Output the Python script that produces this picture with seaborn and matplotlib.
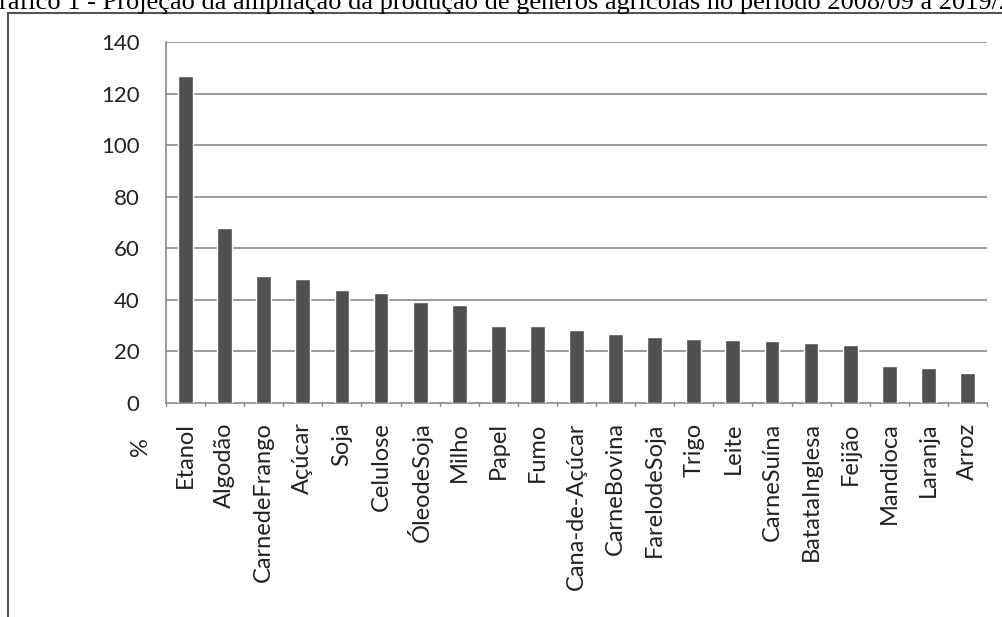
import matplotlib
matplotlib.use("Agg")
import matplotlib.pyplot as plt
import seaborn as sns
import pandas as pd
from matplotlib.patches import Rectangle

categorias = ["Etanol", "Algodão", "CarnedeFrango", "Açúcar", "Soja", "Celulose",
              "ÓleodeSoja", "Milho", "Papel", "Fumo", "Cana-de-Açúcar", "CarneBovina",
              "FarelodeSoja", "Trigo", "Leite", "CarneSuína", "BatataInglesa", "Feijão",
              "Mandioca", "Laranja", "Arroz"]
valores = [126.8, 68.0, 49.2, 48.2, 43.8, 42.8, 39.1, 37.9, 29.8, 29.9, 28.3, 26.9,
           25.5, 24.9, 24.4, 24.0, 23.1, 22.5, 14.5, 13.7, 11.7]
yticks = [0, 20, 40, 60, 80, 100, 120, 140]
titulo = "Gráfico 1 - Projeção da ampliação da produção de gêneros agrícolas no período 2008/09 a 2019/20"

sns.set_theme(style="white")
plt.rcParams['font.family'] = ['Lato', 'DejaVu Sans']

df = pd.DataFrame({"cat": categorias, "val": valores})

fig = plt.figure(figsize=(10.02, 6.17), dpi=100)
ax = fig.add_axes([166/1002, (617-403)/617, (987-166)/1002, (403-42)/617])

sns.barplot(data=df, x="cat", y="val", color="#505050", width=0.38,
            saturation=1, ax=ax, zorder=3)

ax.set_ylim(0, 140)
ax.set_xlim(-0.5, len(categorias) - 0.5)
ax.set_yticks(yticks)
ax.set_yticklabels([str(t) for t in yticks], fontsize=16, color="#222222")
ax.tick_params(axis="y", length=0, pad=19)
ax.tick_params(axis="x", length=0, pad=14)
for lab in ax.get_xticklabels():
    lab.set_rotation(90)
    lab.set_fontsize(17)
    lab.set_color("#222222")
ax.set_xlabel("")
ax.set_ylabel("")
for y in yticks[1:]:
    ax.axhline(y, color="#8a8a8a", lw=1.2, zorder=1)
for s in ["top", "right"]:
    ax.spines[s].set_visible(False)
ax.spines["left"].set_color("#8a8a8a")
ax.spines["bottom"].set_color("#8a8a8a")
ax.spines["left"].set_linewidth(1.2)
ax.spines["bottom"].set_linewidth(1.2)
# small category separator ticks on bottom axis
for i in range(len(categorias) + 1):
    ax.plot([i - 0.5, i - 0.5], [0, -1.2], color="#8a8a8a", lw=1, clip_on=False)

fig.text(140/1002, 1 - 447/617, "%", rotation=90, fontsize=17, color="#222222",
         ha="center", va="center")

# outer frame (partially cropped)
fig.patches.append(Rectangle((8/1002, -0.05), 1.1, 1 - 13/617 + 0.05,
                             transform=fig.transFigure, fill=False,
                             edgecolor="#555555", lw=1.5))

fig.text(-20/1002, 1 - 9/617, titulo, fontsize=19.0, family=["Liberation Serif"],
         ha="left", va="baseline", color="black")

fig.savefig("out.png", dpi=100)
